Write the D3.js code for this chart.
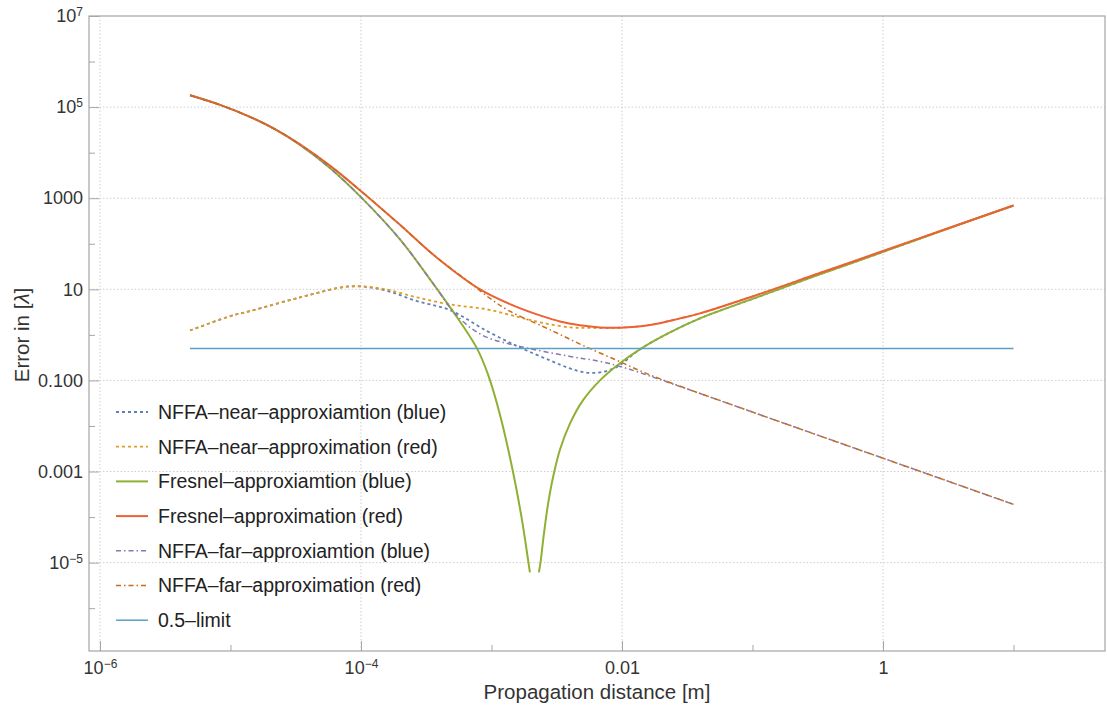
<!DOCTYPE html>
<meta charset="utf-8">
<script src="https://d3js.org/d3.v7.min.js"></script>
<body style="margin:0;background:#fff;">
<div id="chart"></div>
<script>

// values (x in m, error in wavelengths)
var nearBlueX = [4.9e-6, 1e-5, 1.41e-5, 3.41e-5, 8.24e-5, 1.48e-4, 2.69e-4, 4.81e-4, 9.25e-4, 1.65e-3, 2.81e-3, 4.0e-3, 5.2e-3, 6.78e-3, 9.16e-3, 1.37e-2, 2.33e-2, 3.96e-2, 0.1, 0.312, 1, 3.16, 10];
var nearBlueY = [1.25, 2.58, 3.32, 6.64, 11.6, 9.7, 5.51, 3.49, 1.21, 0.53, 0.275, 0.183, 0.150, 0.150, 0.198, 0.48, 1.13, 2.30, 6.15, 20.2, 66.2, 217, 692];

var nearRedX = [4.9e-6, 1e-5, 1.41e-5, 3.41e-5, 8.24e-5, 1.48e-4, 2.69e-4, 4.81e-4, 9.25e-4, 1.65e-3, 2.48e-3, 4.0e-3, 5.69e-3, 9.66e-3, 1.64e-2, 2.78e-2, 3.96e-2, 0.1, 0.316, 1, 3.16, 10];
var nearRedY = [1.25, 2.58, 3.32, 6.64, 11.6, 10.2, 6.64, 4.66, 3.62, 2.42, 1.83, 1.46, 1.42, 1.44, 1.65, 2.30, 2.96, 6.98, 21.9, 69.2, 219, 692];

var fresnelBlueX = [4.9e-6, 8.32e-6, 1.41e-5, 2.19e-5, 3.41e-5, 5.78e-5, 9.82e-5, 1.99e-4, 3.56e-4, 5.07e-4, 7.74e-4, 9.4e-4, 1.16e-3, 1.46e-3, 1.71e-3, 1.905e-3, 1.97e-3,
                    2.14e-3,
                    2.31e-3, 2.39e-3, 2.52e-3, 2.71e-3, 2.96e-3, 3.35e-3, 4.0e-3, 5.02e-3, 6.78e-3, 9.16e-3, 1.37e-2, 2.33e-2, 3.96e-2, 0.1, 0.312, 1, 3.16, 10];
var fresnelBlueY = [1.82e5, 1.12e5, 6.1e4, 3.27e4, 1.48e4, 4.61e3, 1.11e3, 125, 13.5, 3.27, 0.505, 0.1355, 0.0179, 1.0e-3, 8.9e-5, 1.17e-5, 6.1e-6,
                    null,
                    6.1e-6, 1.17e-5, 4.2e-5, 1.9e-4, 7.4e-4, 3.05e-3, 0.0114, 0.0364, 0.1, 0.213, 0.48, 1.13, 2.30, 6.15, 20.2, 66.2, 217, 692];

var fresnelRedX = [4.9e-6, 8.32e-6, 1.41e-5, 2.19e-5, 3.41e-5, 5.78e-5, 9.82e-5, 1.99e-4, 3.82e-4, 8.17e-4, 1.46e-3, 2.48e-3, 3.35e-3, 4.76e-3, 6.78e-3, 9.66e-3, 1.64e-2, 2.78e-2, 3.96e-2, 0.1, 0.316, 1, 3.16, 10];
var fresnelRedY = [1.82e5, 1.12e5, 6.1e4, 3.27e4, 1.52e4, 5.18e3, 1.50e3, 261, 49.4, 9.95, 4.44, 2.54, 1.97, 1.63, 1.46, 1.44, 1.65, 2.30, 2.96, 6.98, 21.9, 69.2, 219, 692];

var farBlueX = [4.9e-6, 8.32e-6, 1.41e-5, 2.19e-5, 3.41e-5, 5.78e-5, 9.82e-5, 1.99e-4, 3.56e-4, 5.07e-4, 5.53e-4, 6.84e-4, 9.25e-4, 1.65e-3, 4.0e-3, 6.78e-3, 1.055e-2, 1.95e-2, 0.1, 1, 10];
var farBlueY = [1.82e5, 1.12e5, 6.1e4, 3.27e4, 1.48e4, 4.61e3, 1.11e3, 125, 13.5, 3.27, 2.54, 1.46, 0.88, 0.557, 0.336, 0.261, 0.188, 0.105, 0.0202, 1.96e-3, 1.9e-4];

var farRedX = [4.9e-6, 8.32e-6, 1.41e-5, 2.19e-5, 3.41e-5, 5.78e-5, 9.82e-5, 1.99e-4, 3.82e-4, 6.84e-4, 9.75e-4, 1.39e-3, 2.48e-3, 3.35e-3, 5.02e-3, 9.16e-3, 1.64e-2, 0.1, 1, 10];
var farRedY = [1.82e5, 1.12e5, 6.1e4, 3.27e4, 1.52e4, 5.18e3, 1.50e3, 261, 49.4, 14.0, 6.31, 3.27, 1.53, 1.02, 0.586, 0.275, 0.132, 0.0202, 1.96e-3, 1.9e-4];

var limitX = [4.9e-6, 10];
var limitY = [0.5, 0.5];

// tick labels: [base, superscript]
var xTickValues = [1e-6, 1e-4, 1e-2, 1];
var xTickLabels = [["10", "\u22126"], ["10", "\u22124"], ["0.01", ""], ["1", ""]];
var xMinorTicks = [1e-5, 1e-3, 0.1, 10];
var yTickValues = [1e7, 1e5, 1000, 10, 0.1, 0.001, 1e-5];
var yTickLabels = [["10", "7"], ["10", "5"], ["1000", ""], ["10", ""], ["0.100", ""], ["0.001", ""], ["10", "\u22125"]];
var yMinorTicks = [1e6, 1e4, 100, 1, 0.01, 1e-4, 1e-6];

var series = [
  {name: "NFFA\u2013near\u2013approxiamtion (blue)", xs: nearBlueX, ys: nearBlueY, color: "#5E81B5", dash: "3,3", w: 1.8},
  {name: "NFFA\u2013near\u2013approximation (red)", xs: nearRedX, ys: nearRedY, color: "#E19C24", dash: "3,3", w: 1.8},
  {name: "Fresnel\u2013approxiamtion (blue)", xs: fresnelBlueX, ys: fresnelBlueY, color: "#8FB032", dash: null, w: 2},
  {name: "Fresnel\u2013approximation (red)", xs: fresnelRedX, ys: fresnelRedY, color: "#EB6235", dash: null, w: 2},
  {name: "NFFA\u2013far\u2013approxiamtion (blue)", xs: farBlueX, ys: farBlueY, color: "#8778B3", dash: "5,3,1.5,3", w: 1.5},
  {name: "NFFA\u2013far\u2013approximation (red)", xs: farRedX, ys: farRedY, color: "#C56E1A", dash: "5,3,1.5,3", w: 1.5},
  {name: "0.5\u2013limit", xs: limitX, ys: limitY, color: "#5D9EC7", dash: null, w: 1.5}
];

var W = 1107, H = 711;
var frame = {left: 89, right: 1105, top: 16, bottom: 651};

var svg = d3.select("#chart").append("svg")
    .attr("width", W).attr("height", H)
    .style("font-family", "'Liberation Sans', Arial, sans-serif");

svg.append("rect").attr("width", W).attr("height", H).attr("fill", "#fff");

var x = d3.scaleLog().domain([Math.pow(10, -6.084), Math.pow(10, 1.701)]).range([frame.left, frame.right]);
var y = d3.scaleLog().domain([Math.pow(10, -6.94), 1e7]).range([frame.bottom, frame.top]);

// grid lines
var grid = svg.append("g");
grid.selectAll(".gx").data(xTickValues).enter().append("line")
    .attr("x1", d => x(d)).attr("x2", d => x(d))
    .attr("y1", frame.top).attr("y2", frame.bottom)
    .attr("stroke", "#cfcfcf").attr("stroke-dasharray", "1.5,2");
grid.selectAll(".gy").data(yTickValues.slice(1)).enter().append("line")
    .attr("y1", d => y(d)).attr("y2", d => y(d))
    .attr("x1", frame.left).attr("x2", frame.right)
    .attr("stroke", "#cfcfcf").attr("stroke-dasharray", "1.5,2");

svg.append("clipPath").attr("id", "clip").append("rect")
    .attr("x", frame.left).attr("y", frame.top)
    .attr("width", frame.right - frame.left).attr("height", frame.bottom - frame.top);

var line = d3.line()
    .defined(d => d[1] != null)
    .x(d => x(d[0])).y(d => y(d[1]))
    .curve(d3.curveCatmullRom.alpha(0.5));

var plot = svg.append("g").attr("clip-path", "url(#clip)");
series.forEach(function(s) {
  var pts = s.xs.map((v, i) => [v, s.ys[i]]);
  plot.append("path")
      .attr("d", line(pts))
      .attr("fill", "none")
      .attr("stroke", s.color)
      .attr("stroke-width", s.w)
      .attr("stroke-dasharray", s.dash);
});

// frame
svg.append("rect")
    .attr("x", frame.left).attr("y", frame.top)
    .attr("width", frame.right - frame.left).attr("height", frame.bottom - frame.top)
    .attr("fill", "none").attr("stroke", "#a6a6a6").attr("stroke-width", 1.2);

// axes, ticks pointing inward
function labelTicks(sel, labels) {
  sel.selectAll(".tick text").each(function(d, i) {
    var t = d3.select(this).text("");
    t.append("tspan").text(labels[i][0]);
    if (labels[i][1]) {
      t.append("tspan").attr("dy", "-0.5em").style("font-size", "12px").text(labels[i][1]);
    }
  });
}

var gx = svg.append("g").attr("transform", "translate(0," + frame.bottom + ")")
    .call(d3.axisBottom(x).tickValues(xTickValues).tickSizeInner(-10).tickSizeOuter(0).tickPadding(10));
labelTicks(gx, xTickLabels);
svg.append("g").attr("transform", "translate(0," + frame.bottom + ")")
    .call(d3.axisBottom(x).tickValues(xMinorTicks).tickSizeInner(-6).tickSizeOuter(0).tickFormat(""));

var gy = svg.append("g").attr("transform", "translate(" + frame.left + ",0)")
    .call(d3.axisLeft(y).tickValues(yTickValues).tickSizeInner(-10).tickSizeOuter(0).tickPadding(6));
labelTicks(gy, yTickLabels);
svg.append("g").attr("transform", "translate(" + frame.left + ",0)")
    .call(d3.axisLeft(y).tickValues(yMinorTicks).tickSizeInner(-6).tickSizeOuter(0).tickFormat(""));

svg.selectAll(".domain").remove();
svg.selectAll(".tick line").attr("stroke", "#a6a6a6");
svg.selectAll(".tick text").attr("fill", "#333").style("font-size", "18px").style("font-family", "'Liberation Sans', Arial, sans-serif");

// axis titles
svg.append("text")
    .attr("x", 597).attr("y", 699)
    .attr("text-anchor", "middle")
    .attr("fill", "#333").style("font-size", "20.5px")
    .text("Propagation distance [m]");

var yl = svg.append("text")
    .attr("transform", "translate(29,335) rotate(-90)")
    .attr("text-anchor", "middle")
    .attr("fill", "#333").style("font-size", "20.5px");
yl.append("tspan").text("Error in [");
yl.append("tspan").style("font-style", "italic").text("\u03bb");
yl.append("tspan").text("]");

// legend
var legend = svg.append("g");
series.forEach(function(s, i) {
  var ly = 412 + i * 34.7;
  legend.append("line")
      .attr("x1", 116).attr("x2", 148).attr("y1", ly).attr("y2", ly)
      .attr("stroke", s.color).attr("stroke-width", s.w)
      .attr("stroke-dasharray", s.dash);
  legend.append("text")
      .attr("x", 158).attr("y", ly).attr("dy", "0.35em")
      .attr("fill", "#222").style("font-size", "19.5px")
      .text(s.name);
});

</script>
</body>
